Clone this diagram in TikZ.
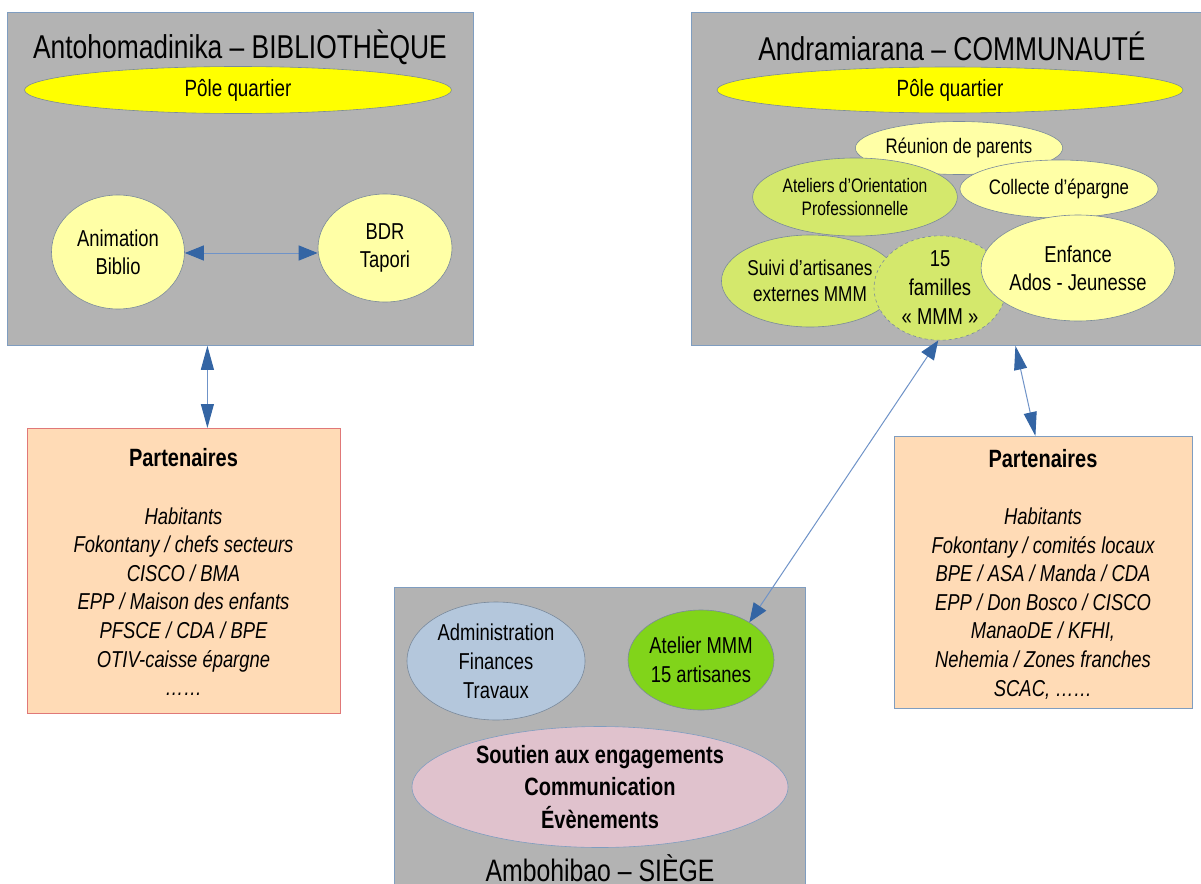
\documentclass[tikz,border=0pt]{standalone}
\usepackage{fontspec}
\setmainfont{Liberation Sans}[FakeStretch=0.8]
\usetikzlibrary{shapes.geometric,arrows.meta}
\definecolor{boxgray}{HTML}{B3B3B3}
\definecolor{zoneborder}{HTML}{7F9DC0}
\definecolor{poleyellow}{HTML}{FFFF00}
\definecolor{lyellow}{HTML}{FFFFA6}
\definecolor{lgreen}{HTML}{D4E86C}
\definecolor{mgreen}{HTML}{81D41A}
\definecolor{lblue}{HTML}{B4C7DC}
\definecolor{lpink}{HTML}{E0C2CD}
\definecolor{peach}{HTML}{FFDBB6}
\definecolor{arrowblue}{HTML}{3465A4}
\definecolor{linkblue}{HTML}{6F93C8}
\definecolor{ellborder}{HTML}{7A8A9C}
\definecolor{redborder}{HTML}{E07878}
\newcommand\fsz[2]{\fontsize{#1}{#2}\selectfont}
\begin{document}
\begin{tikzpicture}[x=1pt,y=-1pt,
  zone/.style={draw=zoneborder,fill=boxgray,line width=0.8pt,inner sep=0pt,anchor=north west},
  ztitle/.style={font=\fsz{33}{38},inner sep=0pt},
  pole/.style={ellipse,draw=ellborder,fill=poleyellow,line width=0.6pt,inner sep=0pt,font=\fsz{23.5}{28}},
  bubble/.style={ellipse,draw=ellborder,line width=0.6pt,inner sep=0pt,align=center},
  partbox/.style={fill=peach,line width=0.8pt,inner sep=0pt,anchor=north west},
  parttext/.style={align=center,inner sep=0pt,anchor=north,font=\fsz{23}{28.6}\itshape},
  link/.style={color=linkblue,line width=1pt},
  biarrow/.style={link,{Triangle[length=19pt,width=15pt,color=arrowblue]}-{Triangle[length=19pt,width=15pt,color=arrowblue]}},
  biarrowv/.style={link,{Triangle[length=24pt,width=13pt,color=arrowblue]}-{Triangle[length=24pt,width=13pt,color=arrowblue]}}
]
\useasboundingbox (0,0) rectangle (1201,883);
\fill[white] (0,0) rectangle (1201,883);

% ---- Zones and partner boxes
\node[zone,minimum width=466pt,minimum height=333pt] (boxL) at (7,12) {};
\node[zone,minimum width=520pt,minimum height=333pt] (boxR) at (691,12) {};
\node[zone,minimum width=411pt,minimum height=320pt] (boxS) at (394,587) {};
\node[partbox,draw=redborder,minimum width=313pt,minimum height=285pt] (partL) at (27,428) {};
\node[partbox,draw=zoneborder,minimum width=298pt,minimum height=272pt] (partR) at (894,436) {};

% ---- Links between zones and partners
\draw[biarrowv] ([xshift=-33pt]boxL.south) -- ([xshift=23.5pt]partL.north);
\draw[biarrowv] ([xshift=64pt]boxR.south) -- ([xshift=-8pt]partR.north);

% ---- Left zone: BIBLIOTHEQUE
\node[ztitle] (titleL) at (240,47) {Antohomadinika – BIBLIOTHÈQUE};
\node[pole,minimum width=427pt,minimum height=47pt] (poleL) at (238,90) {Pôle quartier};
\node[bubble,fill=lyellow,minimum width=133pt,minimum height=114pt,font=\fsz{23}{28}] (anim) at (118,252) {Animation\\Biblio};
\node[bubble,fill=lyellow,minimum width=134pt,minimum height=108pt,font=\fsz{23}{28}] (bdr) at (385,248) {BDR\\Tapori};
\draw[biarrow] (anim.east |- 0,253) -- (bdr.west |- 0,253);

% ---- Left partners
\node[parttext] (partLtext) at (183.5,448.5) {{\upshape\bfseries\fsz{25}{28.6}Partenaires}\\[28.6pt]
Habitants\\Fokontany / chefs secteurs\\CISCO / BMA\\EPP / Maison des enfants\\PFSCE / CDA / BPE\\OTIV-caisse épargne\\……};

% ---- Right zone: COMMUNAUTE
\node[ztitle] (titleR) at (952,46) {Andramiarana – COMMUNAUTÉ};
\node[pole,minimum width=466pt,minimum height=46pt] (poleR) at (950,90) {Pôle quartier};
\node[bubble,fill=lyellow,minimum width=182pt,minimum height=53pt,font=\fsz{21}{26}] (reunion) at (959,148) {Réunion de parents};
\node[bubble,fill=lgreen,minimum width=160pt,minimum height=78pt,font=\fsz{19.5}{22.5}] (ateliers) at (855,197) {Ateliers d’Orientation\\Professionnelle};
\node[bubble,fill=lyellow,minimum width=176pt,minimum height=58pt,font=\fsz{21}{26}] (collecte) at (1059,189) {Collecte d’épargne};
\node[bubble,fill=lgreen,minimum width=144pt,minimum height=92pt,font=\fsz{21.5}{26.5}] (suivi) at (810,281) {Suivi d’artisanes\\externes MMM};
\node[bubble,fill=lgreen,dashed,minimum width=132pt,minimum height=90pt,font=\fsz{23}{29}] (fam) at (940,288) {15\\familles\\« MMM »};
\node[bubble,fill=lyellow,minimum width=174pt,minimum height=106pt,font=\fsz{23}{28}] (enfance) at (1078,268) {Enfance\\Ados - Jeunesse};

% ---- Right partners
\node[parttext] (partRtext) at (1043,449) {{\upshape\bfseries\fsz{25}{28.6}Partenaires}\\[28.6pt]
Habitants\\Fokontany / comités locaux\\BPE / ASA / Manda / CDA\\EPP / Don Bosco / CISCO\\ManaoDE / KFHI,\\Nehemia / Zones franches\\SCAC, ……};

% ---- Bottom zone: SIEGE
\node[bubble,fill=lblue,minimum width=178pt,minimum height=118pt,font=\fsz{23}{29}] (admin) at (496,661) {Administration\\Finances\\Travaux};
\node[bubble,fill=mgreen,minimum width=136pt,minimum height=100pt,font=\fsz{23}{29}] (mmm) at (701,660) {Atelier MMM\\15 artisanes};
\node[bubble,fill=lpink,draw=zoneborder,minimum width=376pt,minimum height=121pt,font=\bfseries\fsz{25}{32.5}] (soutien) at (600,787) {Soutien aux engagements\\Communication\\Évènements};
\node[ztitle,font=\fsz{31}{36}] (titleS) at (600,868) {Ambohibao – SIÈGE};

\draw[biarrow] (mmm.38) -- (fam.268);
\end{tikzpicture}
\end{document}
